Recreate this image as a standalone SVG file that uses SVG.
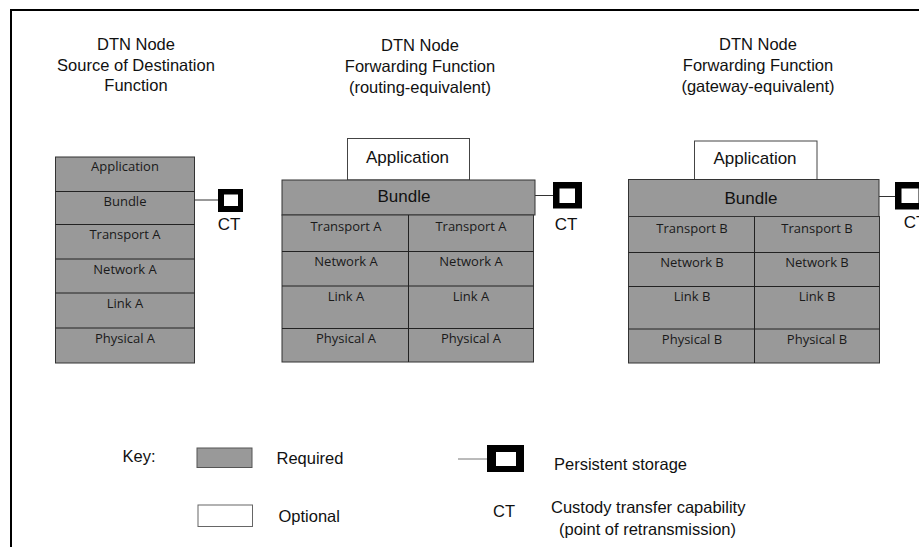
<svg xmlns="http://www.w3.org/2000/svg" width="919" height="547" viewBox="0 0 919 547">
<style>
  .bg{fill:#ffffff}
  .frame{fill:none;stroke:#000;stroke-width:2}
  .req{fill:#999999;stroke:#333333;stroke-width:1}
  .opt{fill:#ffffff;stroke:#444444;stroke-width:1}
  .div{stroke:#222222;stroke-width:1}
  .title{font-family:"Liberation Sans",Arial,sans-serif;font-size:16.5px;fill:#111;text-anchor:middle}
  .big{font-family:"Liberation Sans",Arial,sans-serif;font-size:17px;fill:#111;text-anchor:middle}
  .lay{font-family:"Open Sans","Liberation Sans",sans-serif;font-size:13px;fill:#1a1a1a;text-anchor:middle}
  .key{font-family:"Liberation Sans",Arial,sans-serif;font-size:16.5px;fill:#111}
  .conn{stroke:#333;stroke-width:1;fill:none}
  .blk{fill:#000}
  .wht{fill:#fff}
</style>
<rect class="bg" x="0" y="0" width="919" height="547"/>
<path class="frame" d="M11,548 V10 H921"/>

<g id="node-source">
  <text class="title" x="136" y="50">DTN Node</text>
  <text class="title" x="136" y="71">Source of Destination</text>
  <text class="title" x="136" y="91">Function</text>
  <rect class="req" x="55.5" y="157" width="139" height="206"/>
  <line class="div" x1="55.5" y1="191.5" x2="194.5" y2="191.5"/>
  <line class="div" x1="55.5" y1="224.5" x2="194.5" y2="224.5"/>
  <line class="div" x1="55.5" y1="259" x2="194.5" y2="259"/>
  <line class="div" x1="55.5" y1="293" x2="194.5" y2="293"/>
  <line class="div" x1="55.5" y1="328" x2="194.5" y2="328"/>
  <text class="lay" x="125" y="171">Application</text>
  <text class="lay" x="125" y="205.5">Bundle</text>
  <text class="lay" x="125" y="239">Transport A</text>
  <text class="lay" x="125" y="273.5">Network A</text>
  <text class="lay" x="125" y="307.5">Link A</text>
  <text class="lay" x="125" y="343">Physical A</text>
  <rect class="blk" x="218" y="189" width="25" height="23"/>
  <rect class="wht" x="224" y="194.5" width="14" height="11.5"/>
  <text class="big" x="229" y="230">CT</text>
</g>

<g id="node-routing">
  <text class="title" x="420" y="51">DTN Node</text>
  <text class="title" x="420" y="72">Forwarding Function</text>
  <text class="title" x="420" y="93">(routing-equivalent)</text>
  <rect class="opt" x="347.5" y="138.5" width="122" height="41.5"/>
  <text class="big" x="407.5" y="162.5">Application</text>
  <rect class="req" x="282" y="180" width="253" height="35"/>
  <text class="big" x="404" y="202">Bundle</text>
  <rect class="req" x="282" y="215" width="251.5" height="147"/>
  <line class="div" x1="408.5" y1="215" x2="408.5" y2="362"/>
  <line class="div" x1="282" y1="251.5" x2="533.5" y2="251.5"/>
  <line class="div" x1="282" y1="286" x2="533.5" y2="286"/>
  <line class="div" x1="282" y1="328.5" x2="533.5" y2="328.5"/>
  <text class="lay" x="346" y="231">Transport A</text>
  <text class="lay" x="471" y="231">Transport A</text>
  <text class="lay" x="346" y="266">Network A</text>
  <text class="lay" x="471" y="266">Network A</text>
  <text class="lay" x="346" y="300.5">Link A</text>
  <text class="lay" x="471" y="300.5">Link A</text>
  <text class="lay" x="346" y="343">Physical A</text>
  <text class="lay" x="471" y="343">Physical A</text>
  <rect class="blk" x="553" y="182" width="29" height="26.5"/>
  <rect class="wht" x="559.5" y="188.5" width="15.5" height="14.5"/>
  <text class="big" x="566" y="230">CT</text>
</g>

<g id="node-gateway">
  <text class="title" x="758" y="50">DTN Node</text>
  <text class="title" x="758" y="71">Forwarding Function</text>
  <text class="title" x="758" y="92">(gateway-equivalent)</text>
  <rect class="opt" x="694.5" y="141" width="122.5" height="38.5"/>
  <text class="big" x="755" y="163.5">Application</text>
  <rect class="req" x="628.5" y="179.5" width="250.5" height="37"/>
  <text class="big" x="751" y="204">Bundle</text>
  <rect class="req" x="628.5" y="216.5" width="251" height="146.5"/>
  <line class="div" x1="754.5" y1="216.5" x2="754.5" y2="363"/>
  <line class="div" x1="628.5" y1="252.5" x2="879.5" y2="252.5"/>
  <line class="div" x1="628.5" y1="286.5" x2="879.5" y2="286.5"/>
  <line class="div" x1="628.5" y1="329" x2="879.5" y2="329"/>
  <text class="lay" x="692" y="233">Transport B</text>
  <text class="lay" x="817" y="233">Transport B</text>
  <text class="lay" x="692" y="267">Network B</text>
  <text class="lay" x="817" y="267">Network B</text>
  <text class="lay" x="692" y="301">Link B</text>
  <text class="lay" x="817" y="301">Link B</text>
  <text class="lay" x="692" y="343.5">Physical B</text>
  <text class="lay" x="817" y="343.5">Physical B</text>
  <rect class="blk" x="895" y="182" width="30" height="27.5"/>
  <rect class="wht" x="901.5" y="188.5" width="17" height="14.5"/>
  <text class="big" x="915" y="228">CT</text>
</g>

<g id="connectors">
  <line class="conn" x1="194.5" y1="200" x2="218" y2="200"/>
  <line class="conn" x1="535" y1="195.5" x2="553" y2="195.5"/>
  <line class="conn" x1="879" y1="196.5" x2="895" y2="196.5"/>
</g>

<g id="legend">
  <text class="key" x="122.5" y="462">Key:</text>
  <rect class="req" x="197" y="448" width="55" height="19.5" style="stroke:#555"/>
  <text class="key" x="276.5" y="464">Required</text>
  <rect class="opt" x="198" y="505" width="54.5" height="21.5" style="stroke:#666"/>
  <text class="key" x="278.5" y="522">Optional</text>
  <line x1="458" y1="459" x2="487" y2="459" style="stroke:#777;stroke-width:1"/>
  <rect class="blk" x="487" y="445" width="37" height="27"/>
  <rect class="wht" x="496" y="452" width="20" height="14"/>
  <text class="key" x="554" y="469.5">Persistent storage</text>
  <text class="key" x="493" y="516.5">CT</text>
  <text class="key" x="551" y="513">Custody transfer capability</text>
  <text class="key" x="559" y="534.5">(point of retransmission)</text>
</g>
</svg>
